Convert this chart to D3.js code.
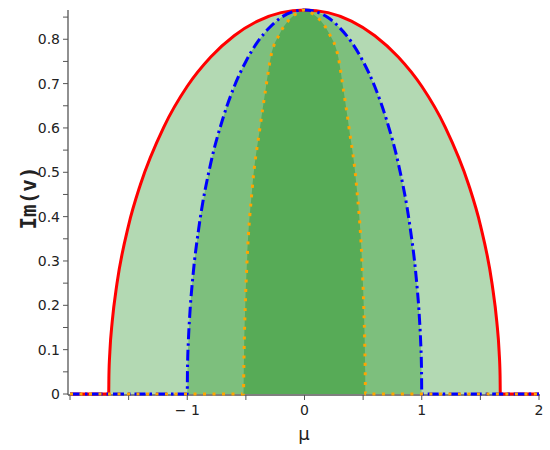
<!DOCTYPE html>
<html>
<head>
<meta charset="utf-8">
<script src="https://cdn.jsdelivr.net/npm/d3@7"></script>
<style>
  body { margin: 0; background: #fff; }
  svg { display: block; }
  .tick-label { font-family: "DejaVu Sans", sans-serif; font-size: 14px; fill: #222; }
</style>
</head>
<body>
<div id="chart"></div>
<script>
// values (mu, Im(v)) for each boundary curve
var redMu  = [-2, -1.67, -1.668, -1.66, -1.64, -1.6, -1.5, -1.4, -1.2, -1.0, -0.8, -0.6, -0.4, -0.2, 0,
              0.2, 0.4, 0.6, 0.8, 1.0, 1.2, 1.4, 1.5, 1.6, 1.64, 1.66, 1.668, 1.67, 2];
var redIm  = [0, 0, 0.042, 0.095, 0.163, 0.248, 0.381, 0.472, 0.602, 0.694, 0.760, 0.808, 0.841, 0.860, 0.866,
              0.860, 0.841, 0.808, 0.760, 0.694, 0.602, 0.472, 0.381, 0.248, 0.163, 0.095, 0.042, 0, 0];

var blueMu = [-2, -1, -0.998, -0.99, -0.98, -0.95, -0.9, -0.8, -0.7, -0.6, -0.5, -0.4, -0.3, -0.2, -0.1, 0,
              0.1, 0.2, 0.3, 0.4, 0.5, 0.6, 0.7, 0.8, 0.9, 0.95, 0.98, 0.99, 0.998, 1, 2];
var blueIm = [0, 0, 0.055, 0.122, 0.172, 0.270, 0.377, 0.520, 0.618, 0.693, 0.750, 0.794, 0.826, 0.849, 0.862, 0.866,
              0.862, 0.849, 0.826, 0.794, 0.750, 0.693, 0.618, 0.520, 0.377, 0.270, 0.172, 0.122, 0.055, 0, 0];

var orangeMu = [-2, -0.52, -0.518, -0.515, -0.505, -0.49, -0.445, -0.38, -0.33, -0.29, -0.21, -0.12, -0.055, 0,
                0.055, 0.12, 0.21, 0.29, 0.33, 0.38, 0.445, 0.49, 0.505, 0.515, 0.518, 0.52, 2];
var orangeIm = [0, 0, 0.05, 0.1, 0.2, 0.3, 0.466, 0.6, 0.69, 0.757, 0.813, 0.847, 0.86, 0.866,
                0.86, 0.847, 0.813, 0.757, 0.69, 0.6, 0.466, 0.3, 0.2, 0.1, 0.05, 0, 0];

var xTicks = [-1, 0, 1, 2];
var xMinor = [-2, -1.5, -0.5, 0.5, 1.5];
var yTicks = [0, 0.1, 0.2, 0.3, 0.4, 0.5, 0.6, 0.7, 0.8];
var yMinor = [0.05, 0.15, 0.25, 0.35, 0.45, 0.55, 0.65, 0.75, 0.85];

var width = 550, height = 450;

var svg = d3.select("#chart").append("svg")
    .attr("width", width)
    .attr("height", height);

var x = d3.scaleLinear().domain([-2, 2]).range([70, 539]);
var y = d3.scaleLinear().domain([0, 0.866]).range([394, 10]);

function pts(mu, im) {
    return mu.map(function(d, i) { return [d, im[i]]; });
}

var area = d3.area()
    .x(function(d) { return x(d[0]); })
    .y0(y(0))
    .y1(function(d) { return y(d[1]); })
    .curve(d3.curveMonotoneX);

var line = d3.line()
    .x(function(d) { return x(d[0]); })
    .y(function(d) { return y(d[1]); })
    .curve(d3.curveMonotoneX);

var red = pts(redMu, redIm), blue = pts(blueMu, blueIm), orange = pts(orangeMu, orangeIm);

// fills
svg.append("path").attr("d", area(red)).attr("fill", "#b3d9b3");
svg.append("path").attr("d", area(blue)).attr("fill", "#7dbf7d");
svg.append("path").attr("d", area(orange)).attr("fill", "#57ab57");

// axes
var axisCol = "#555";
svg.append("line").attr("x1", 68).attr("x2", 68).attr("y1", 10).attr("y2", 395)
    .attr("stroke", axisCol).attr("stroke-width", 1.3);
svg.append("line").attr("x1", 68).attr("x2", 540).attr("y1", 395).attr("y2", 395)
    .attr("stroke", axisCol).attr("stroke-width", 1.3);

svg.selectAll(".ytick").data(yTicks.concat(yMinor)).enter().append("line")
    .attr("x1", 63).attr("x2", 68)
    .attr("y1", function(d) { return y(d); }).attr("y2", function(d) { return y(d); })
    .attr("stroke", axisCol).attr("stroke-width", 1);

svg.selectAll(".ylab").data(yTicks).enter().append("text")
    .attr("class", "tick-label")
    .attr("x", 60).attr("y", function(d) { return y(d) + 5; })
    .attr("text-anchor", "end")
    .text(function(d) { return d === 0 ? "0" : d3.format(".1f")(d); });

svg.selectAll(".xtick").data(xTicks.concat(xMinor)).enter().append("line")
    .attr("x1", function(d) { return x(d); }).attr("x2", function(d) { return x(d); })
    .attr("y1", 395).attr("y2", 400)
    .attr("stroke", axisCol).attr("stroke-width", 1);

svg.selectAll(".xlab").data(xTicks).enter().append("text")
    .attr("class", "tick-label")
    .attr("x", function(d) { return x(d); }).attr("y", 415)
    .attr("text-anchor", "middle")
    .text(function(d) { return d < 0 ? "\u2212 " + Math.abs(d) : d; });

// boundary lines
svg.append("path").attr("d", line(red)).attr("fill", "none")
    .attr("stroke", "#ff0000").attr("stroke-width", 3);
svg.append("path").attr("d", line(blue)).attr("fill", "none")
    .attr("stroke", "#0000ff").attr("stroke-width", 3)
    .attr("stroke-dasharray", "11,4,2.5,4");
svg.append("path").attr("d", line(orange)).attr("fill", "none")
    .attr("stroke", "#ffa500").attr("stroke-width", 3)
    .attr("stroke-dasharray", "3,6.5");

// axis titles
svg.append("text")
    .attr("x", 304).attr("y", 440)
    .attr("text-anchor", "middle")
    .style("font-family", "DejaVu Sans, sans-serif")
    .style("font-size", "18px")
    .attr("fill", "#222")
    .text("\u03bc");

svg.append("text")
    .attr("transform", "translate(36,198) rotate(-90)")
    .attr("text-anchor", "middle")
    .style("font-family", "DejaVu Sans Mono, monospace")
    .style("font-size", "21px")
    .style("font-weight", "bold")
    .attr("fill", "#222")
    .text("Im(v)");
</script>
</body>
</html>
